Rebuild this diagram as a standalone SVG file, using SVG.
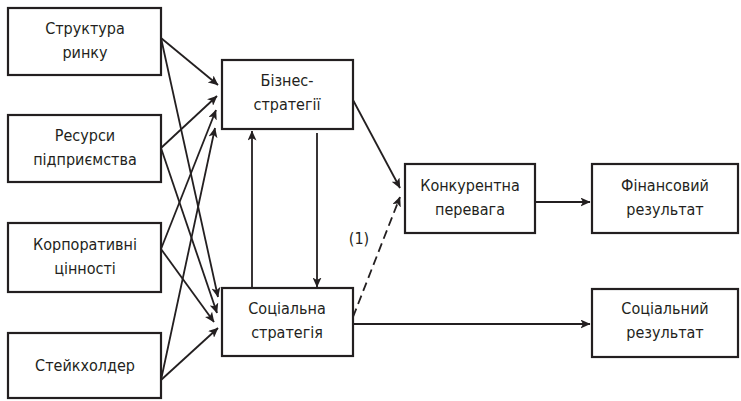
<svg xmlns="http://www.w3.org/2000/svg" width="741" height="401" viewBox="0 0 741 401">
  <defs>
    <marker id="arr" markerWidth="10" markerHeight="9" viewBox="0 0 10 9" refX="9.5" refY="4.5" orient="auto" markerUnits="userSpaceOnUse">
      <path d="M0,0 L10,4.5 L0,9 L2.5,4.5 Z" fill="#231f20"/>
    </marker>
    <style>
      .box { fill: #fff; stroke: #231f20; stroke-width: 2.2; }
      .lbl { font-family: "Liberation Sans Narrow", "DejaVu Sans Condensed", "Liberation Sans", sans-serif; font-size: 16px; fill: #231f20; text-anchor: middle; }
      .ln { stroke: #231f20; stroke-width: 1.8; fill: none; marker-end: url(#arr); }
      .dash { stroke-dasharray: 9 5; }
    </style>
  </defs>
  <rect width="741" height="401" fill="#fff"/>

  <!-- connectors -->
  <g id="connectors">
    <!-- inputs to business strategy -->
    <line class="ln" x1="161" y1="38" x2="218" y2="85"/>
    <line class="ln" x1="161" y1="148" x2="217" y2="96"/>
    <line class="ln" x1="161" y1="249" x2="216" y2="110"/>
    <line class="ln" x1="161" y1="380" x2="215" y2="128"/>
    <!-- inputs to social strategy -->
    <line class="ln" x1="161" y1="38" x2="218" y2="297"/>
    <line class="ln" x1="161" y1="148" x2="217" y2="313"/>
    <line class="ln" x1="161" y1="249" x2="214" y2="322"/>
    <line class="ln" x1="161" y1="380" x2="218" y2="328"/>
    <!-- between strategies -->
    <line class="ln" x1="252" y1="287" x2="252" y2="131"/>
    <line class="ln" x1="317" y1="133" x2="317" y2="287"/>
    <!-- to competitive advantage -->
    <line class="ln" x1="353" y1="100" x2="400" y2="188"/>
    <line class="ln dash" x1="353" y1="317" x2="400" y2="197"/>
    <!-- outcomes -->
    <line class="ln" x1="535" y1="202" x2="590" y2="202"/>
    <line class="ln" x1="353" y1="324" x2="590" y2="324"/>
  </g>
  <text class="lbl" x="359" y="244">(1)</text>

  <g id="market-structure">
    <rect class="box" x="8" y="8" width="153" height="67"/>
    <text class="lbl" x="85" y="34">Структура</text>
    <text class="lbl" x="85" y="58">ринку</text>
  </g>
  <g id="firm-resources">
    <rect class="box" x="8" y="115" width="153" height="67"/>
    <text class="lbl" x="85" y="141">Ресурси</text>
    <text class="lbl" x="85" y="165">підприємства</text>
  </g>
  <g id="corporate-values">
    <rect class="box" x="8" y="223" width="153" height="69"/>
    <text class="lbl" x="85" y="250">Корпоративні</text>
    <text class="lbl" x="85" y="274">цінності</text>
  </g>
  <g id="stakeholder">
    <rect class="box" x="8" y="333" width="153" height="65"/>
    <text class="lbl" x="85" y="371">Стейкхолдер</text>
  </g>
  <g id="business-strategy">
    <rect class="box" x="222" y="60" width="131" height="69"/>
    <text class="lbl" x="287" y="86">Бізнес-</text>
    <text class="lbl" x="287" y="110">стратегії</text>
  </g>
  <g id="social-strategy">
    <rect class="box" x="222" y="288" width="131" height="68"/>
    <text class="lbl" x="287" y="314">Соціальна</text>
    <text class="lbl" x="287" y="338">стратегія</text>
  </g>
  <g id="competitive-advantage">
    <rect class="box" x="405" y="164" width="130" height="69"/>
    <text class="lbl" x="470" y="191">Конкурентна</text>
    <text class="lbl" x="470" y="215">перевага</text>
  </g>
  <g id="financial-result">
    <rect class="box" x="592" y="164" width="146" height="69"/>
    <text class="lbl" x="665" y="191">Фінансовий</text>
    <text class="lbl" x="665" y="215">результат</text>
  </g>
  <g id="social-result">
    <rect class="box" x="592" y="289" width="146" height="68"/>
    <text class="lbl" x="665" y="314">Соціальний</text>
    <text class="lbl" x="665" y="338">результат</text>
  </g>
</svg>
